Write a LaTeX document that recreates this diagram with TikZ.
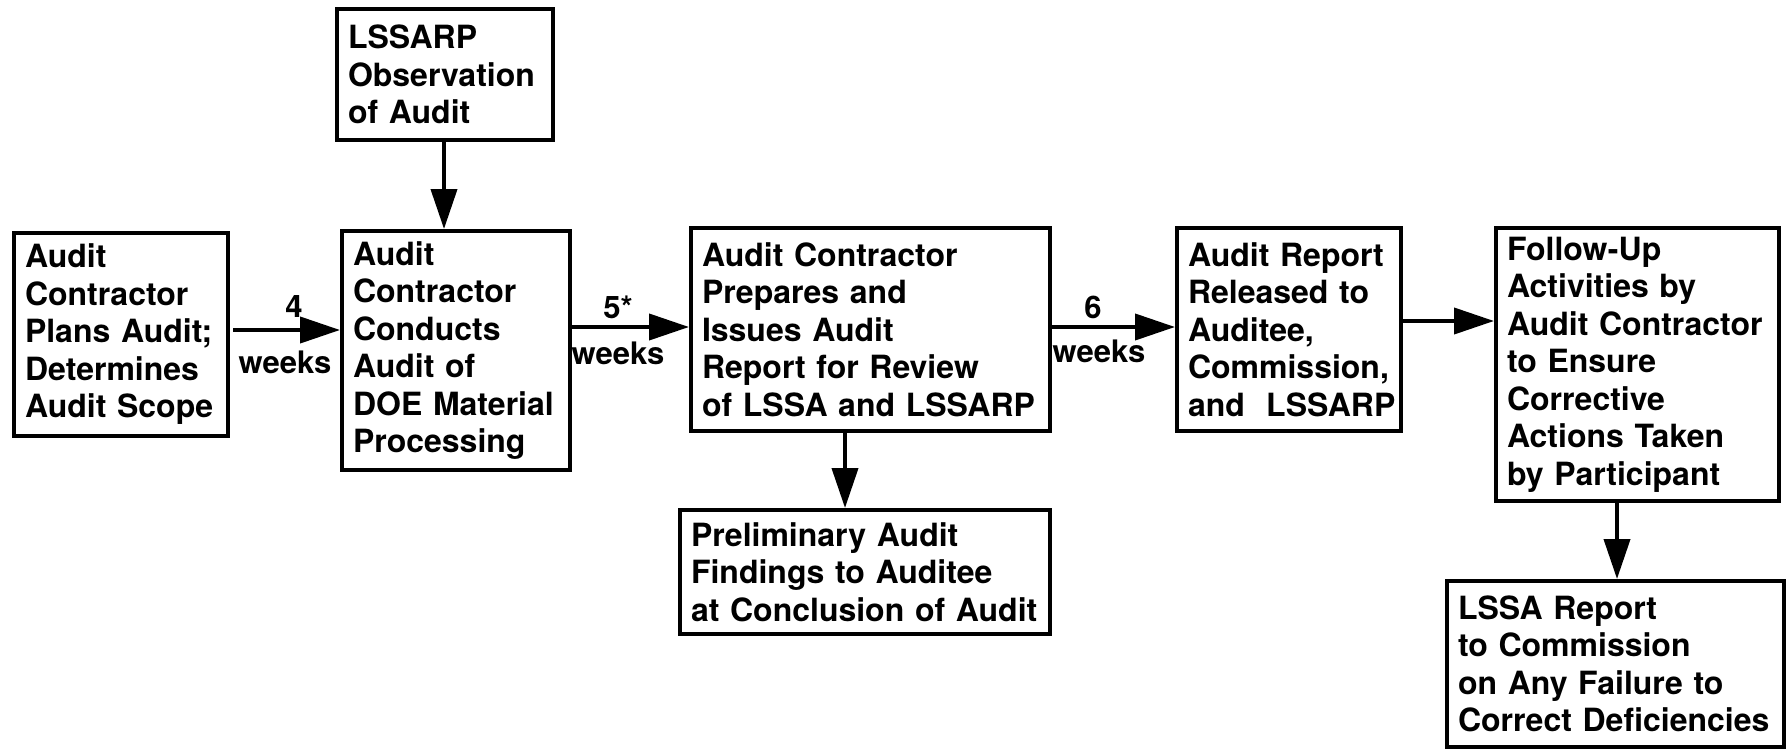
\documentclass[tikz,border=0pt]{standalone}
\usepackage{fontspec}
\setmainfont{TeX Gyre Heros}
\usetikzlibrary{arrows.meta}
\begin{document}
\begin{tikzpicture}[x=1pt,y=-1pt,
  box/.style={draw, line width=4pt, inner xsep=11pt, inner ysep=0pt, align=left,
    font=\fontsize{32}{37.5}\selectfont\bfseries, anchor=center,
    execute at begin node={\hyphenpenalty=10000\hbadness=10000}},
  flow/.style={line width=4pt, -{Triangle[length=40pt,width=26pt]}},
  lbl/.style={font=\fontsize{31}{34}\selectfont\bfseries, inner sep=0pt}]
\useasboundingbox (0,0) rectangle (1786,749);

% process boxes (lines kept whole with ~)
\node[box, minimum width=216pt, minimum height=131pt, text width=194pt] (L) at (445,74.5)
  {LSSARP\\Observation\\of~Audit};
\node[box, minimum width=214pt, minimum height=203pt, text width=192pt] (A) at (121,334.5)
  {Audit\\Contractor\\Plans~Audit;\\Determines\\Audit~Scope};
\node[box, minimum width=228pt, minimum height=239pt, text width=206pt] (B) at (456,350.5)
  {Audit\\Contractor\\Conducts\\Audit~of\\DOE~Material\\Processing};
\node[box, minimum width=359pt, minimum height=203pt, text width=337pt] (C) at (870.5,329.5)
  {Audit~Contractor\\Prepares~and\\Issues~Audit\\Report~for~Review\\of~LSSA~and~LSSARP};
\node[box, minimum width=370pt, minimum height=124pt, text width=348pt] (D) at (865,572)
  {Preliminary~Audit\\Findings~to~Auditee\\at~Conclusion~of~Audit};
\node[box, minimum width=224pt, minimum height=203pt, text width=202pt] (E) at (1289,329.5)
  {Audit~Report\\Released~to\\Auditee,\\Commission,\\and~~LSSARP};
\node[box, minimum width=283pt, minimum height=273pt, text width=261pt] (F) at (1637.5,364.5)
  {Follow-Up\\Activities~by\\Audit~Contractor\\to~Ensure\\Corrective\\Actions~Taken\\by~Participant};
\node[box, minimum width=337pt, minimum height=166pt, text width=315pt] (G) at (1615.5,664)
  {LSSA~Report\\to~Commission\\on~Any~Failure~to\\Correct~Deficiencies};

% connector levels
\coordinate (rowAB) at (0,330);
\coordinate (rowBC) at (0,327);
\coordinate (rowEF) at (0,321);
\coordinate (colLB) at (444,0);
\coordinate (colCD) at (845,0);
\coordinate (colFG) at (1617,0);

% connectors
\draw[flow] ([xshift=3pt]A.east |- rowAB) -- (B.west |- rowAB);
\draw[flow] (B.east |- rowBC) -- (C.west |- rowBC);
\draw[flow] (C.east |- rowBC) -- (E.west |- rowBC);
\draw[flow] (E.east |- rowEF) -- (F.west |- rowEF);
\draw[flow] (L.south -| colLB) -- (B.north -| colLB);
\draw[flow] (C.south -| colCD) -- (D.north -| colCD);
\draw[flow] (F.south -| colFG) -- (G.north -| colFG);

% durations
\node[lbl] (t1) at (294,307) {4};
\node[lbl] (w1) at (285,362) {weeks};
\node[lbl] (t2) at (618,307) {5*};
\node[lbl] (w2) at (618,353) {weeks};
\node[lbl] (t3) at (1093,307) {6};
\node[lbl] (w3) at (1099,351) {weeks};
\end{tikzpicture}
\end{document}
